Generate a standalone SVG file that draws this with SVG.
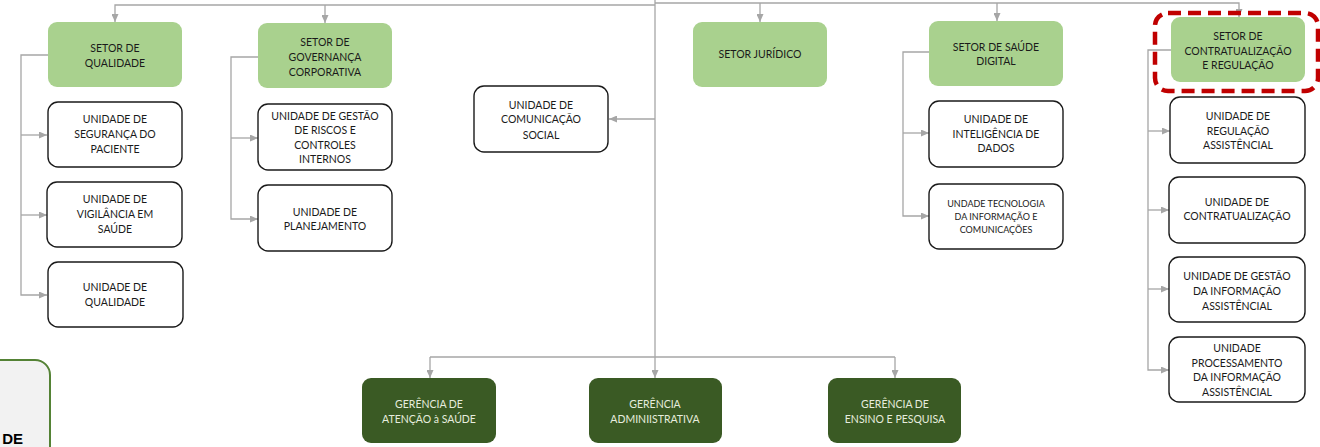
<svg xmlns="http://www.w3.org/2000/svg" width="1320" height="447" viewBox="0 0 1320 447">
<style>
.sec{fill:#a9d18e;stroke:none}
.uni{fill:#fff;stroke:#1a1a1a;stroke-width:1.4}
.ger{fill:#3a5a24;stroke:none}
.c{fill:none;stroke:#a6a6a6;stroke-width:1.3}
.a{marker-end:url(#ah)}
text{font-family:Lato,"Open Sans","Liberation Sans",sans-serif;font-size:10.5px;fill:#1a1a1a;text-anchor:middle}
.w{fill:#e6edde}
.s{font-size:9px}
</style>
<defs>
<marker id="ah" viewBox="0 0 8 7" refX="8" refY="3.5" markerWidth="8" markerHeight="7" markerUnits="userSpaceOnUse" orient="auto"><path d="M0,0 L8,3.5 L0,7 z" fill="#a6a6a6"/></marker>
</defs>
<rect width="1320" height="447" fill="#fff"/>
<g id="connectors">
<path class="c" d="M655,0 V357"/>
<path class="c a" d="M655,5 H115 V22"/>
<path class="c a" d="M325,5 V23"/>
<path class="c a" d="M655,3 H1239 V17"/>
<path class="c a" d="M760,3 V22"/>
<path class="c a" d="M997,3 V21"/>
<path class="c a" d="M655,119 H609"/>
<path class="c" d="M430,357 H895"/>
<path class="c a" d="M430,357 V378"/>
<path class="c a" d="M655,357 V378"/>
<path class="c a" d="M895,357 V378"/>
<path class="c a" d="M48,55 H21 V295 H47"/>
<path class="c a" d="M21,135 H47"/>
<path class="c a" d="M21,215 H47"/>
<path class="c a" d="M258,57 H231 V219 H258"/>
<path class="c a" d="M231,138 H258"/>
<path class="c a" d="M929,52 H903 V216 H929"/>
<path class="c a" d="M903,133 H929"/>
<path class="c a" d="M1171,50 H1148 V370 H1169"/>
<path class="c a" d="M1148,131 H1170"/>
<path class="c a" d="M1148,210 H1169"/>
<path class="c a" d="M1148,289 H1169"/>
</g>
<g id="setor-qualidade"><rect class="sec" x="48" y="22" width="134" height="65" rx="9"/><text x="115" y="52">SETOR DE</text><text x="115" y="67">QUALIDADE</text></g>
<g id="setor-governanca"><rect class="sec" x="258" y="23" width="134" height="65" rx="9"/><text x="325" y="46">SETOR DE</text><text x="325" y="61">GOVERNANÇA</text><text x="325" y="76">CORPORATIVA</text></g>
<g id="setor-juridico"><rect class="sec" x="693" y="22" width="134" height="65" rx="9"/><text x="760" y="58">SETOR JURÍDICO</text></g>
<g id="setor-saude-digital"><rect class="sec" x="929" y="21" width="134" height="65" rx="9"/><text x="996" y="51">SETOR DE SAÚDE</text><text x="996" y="65">DIGITAL</text></g>
<g id="setor-contratualizacao"><rect class="sec" x="1171" y="17" width="134" height="65" rx="9"/><text x="1238" y="40">SETOR DE</text><text x="1238" y="55">CONTRATUALIZAÇÃO</text><text x="1238" y="69">E REGULAÇÃO</text>
<rect x="1155" y="13" width="163" height="78" rx="13" fill="none" stroke="#c00000" stroke-width="4.5" stroke-dasharray="13 7"/></g>
<g id="unidade-seguranca"><rect class="uni" x="48" y="102" width="134" height="65" rx="10"/><text x="115" y="123">UNIDADE DE</text><text x="115" y="138">SEGURANÇA DO</text><text x="115" y="153">PACIENTE</text></g>
<g id="unidade-vigilancia"><rect class="uni" x="47" y="182" width="135" height="65" rx="10"/><text x="115" y="203">UNIDADE DE</text><text x="115" y="218">VIGILÂNCIA EM</text><text x="115" y="233">SAÚDE</text></g>
<g id="unidade-qualidade"><rect class="uni" x="48" y="262" width="135" height="65" rx="10"/><text x="115" y="291">UNIDADE DE</text><text x="115" y="306">QUALIDADE</text></g>
<g id="unidade-riscos"><rect class="uni" x="258" y="104" width="134" height="66" rx="10"/><text x="325" y="120">UNIDADE DE GESTÃO</text><text x="325" y="134">DE RISCOS E</text><text x="325" y="149">CONTROLES</text><text x="325" y="163">INTERNOS</text></g>
<g id="unidade-planejamento"><rect class="uni" x="258" y="185" width="134" height="66" rx="10"/><text x="325" y="216">UNIDADE DE</text><text x="325" y="230">PLANEJAMENTO</text></g>
<g id="unidade-comunicacao"><rect class="uni" x="474" y="86" width="134" height="66" rx="10"/><text x="541" y="109">UNIDADE DE</text><text x="541" y="123">COMUNICAÇÃO</text><text x="541" y="139">SOCIAL</text></g>
<g id="unidade-inteligencia"><rect class="uni" x="929" y="101" width="134" height="66" rx="10"/><text x="996" y="123">UNIDADE DE</text><text x="996" y="138">INTELIGÊNCIA DE</text><text x="996" y="152">DADOS</text></g>
<g id="unidade-tecnologia"><rect class="uni" x="929" y="184" width="134" height="65" rx="10"/><text class="s" x="996" y="207">UNDADE TECNOLOGIA</text><text class="s" x="996" y="220">DA INFORMAÇÃO E</text><text class="s" x="996" y="233">COMUNICAÇÕES</text></g>
<g id="unidade-regulacao"><rect class="uni" x="1170" y="97" width="135" height="66" rx="10"/><text x="1238" y="120">UNIDADE DE</text><text x="1238" y="135">REGULAÇÃO</text><text x="1238" y="149">ASSISTÊNCIAL</text></g>
<g id="unidade-contratualizacao"><rect class="uni" x="1169" y="177" width="136" height="66" rx="10"/><text x="1237" y="206">UNIDADE DE</text><text x="1237" y="220">CONTRATUALIZAÇÃO</text></g>
<g id="unidade-gestao-informacao"><rect class="uni" x="1169" y="257" width="136" height="65" rx="10"/><text x="1237" y="280">UNIDADE DE GESTÃO</text><text x="1237" y="295">DA INFORMAÇÃO</text><text x="1237" y="310">ASSISTÊNCIAL</text></g>
<g id="unidade-processamento"><rect class="uni" x="1169" y="337" width="136" height="65" rx="10"/><text x="1237" y="352">UNIDADE</text><text x="1237" y="367">PROCESSAMENTO</text><text x="1237" y="381">DA INFORMAÇÃO</text><text x="1237" y="396">ASSISTÊNCIAL</text></g>
<g id="gerencia-atencao"><rect class="ger" x="362" y="378" width="134" height="65" rx="9"/><text class="w" x="429" y="408">GERÊNCIA DE</text><text class="w" x="429" y="423">ATENÇÃO à SAÚDE</text></g>
<g id="gerencia-administrativa"><rect class="ger" x="589" y="378" width="133" height="65" rx="9"/><text class="w" x="655" y="408">GERÊNCIA</text><text class="w" x="655" y="423">ADMINIISTRATIVA</text></g>
<g id="gerencia-ensino"><rect class="ger" x="828" y="378" width="133" height="65" rx="9"/><text class="w" x="895" y="408">GERÊNCIA DE</text><text class="w" x="895" y="423">ENSINO E PESQUISA</text></g>
<g id="partial-box"><rect x="-30" y="360" width="80" height="110" rx="15" fill="#f2f2f2" stroke="#548235" stroke-width="2"/><text x="23" y="444" style="font-size:15px;font-weight:bold;text-anchor:end;fill:#000;font-family:'Liberation Sans',sans-serif">DE</text></g>
</svg>
